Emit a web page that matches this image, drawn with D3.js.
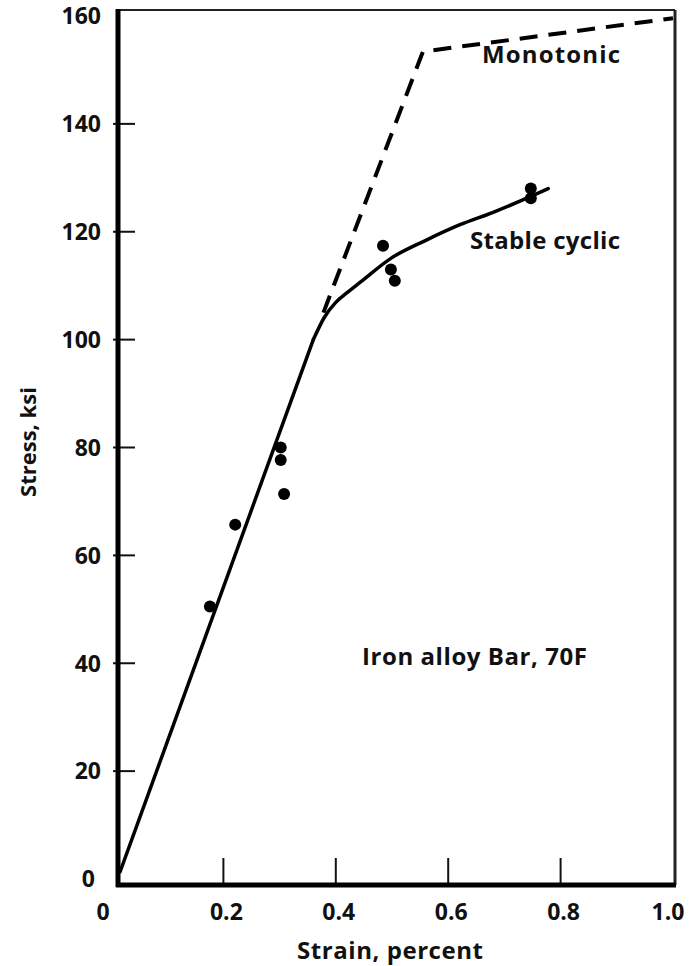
<!DOCTYPE html>
<html><head><meta charset="utf-8">
<script src="https://cdn.jsdelivr.net/npm/d3@7"></script>
<style>
html,body{margin:0;padding:0;background:#fff;}
svg{display:block;}
text{font-family:"Open Sans",sans-serif;font-weight:700;fill:#111;}
</style></head>
<body>
<script>
// ---- data ----
const xTicks = [0, 0.2, 0.4, 0.6, 0.8, 1.0];
const xTickLabels = ["0", "0.2", "0.4", "0.6", "0.8", "1.0"];
const yTicks = [0, 20, 40, 60, 80, 100, 120, 140, 160];
const yTickLabels = ["0", "20", "40", "60", "80", "100", "120", "140", "160"];
// straight (elastic) part of the stable cyclic curve
const elasticStrain = [0.016, 0.36];
const elasticStress = [1.3, 100.0];
// curved part of the stable cyclic curve
const cyclicStrain = [0.36, 0.38, 0.40, 0.42, 0.443, 0.5, 0.562, 0.621, 0.68, 0.746, 0.778];
const cyclicStress = [100.0, 104.2, 106.9, 108.7, 110.6, 115.2, 118.5, 121.3, 123.6, 126.5, 128.0];
const monoStrain = [0.378, 0.555, 1.0];
const monoStress = [105.0, 153.4, 159.6];
const pointStrain = [0.176, 0.221, 0.302, 0.302, 0.308, 0.484, 0.498, 0.505, 0.747, 0.747];
const pointStress = [50.5, 65.7, 80.0, 77.7, 71.4, 117.4, 113.0, 110.9, 128.0, 126.2];
const xTitle = "Strain, percent";
const yTitle = "Stress, ksi";
const labels = ["Monotonic", "Stable cyclic", "Iron alloy Bar, 70F"];

// ---- layout ----
const W = 690, H = 966;
const frame = {left: 118, right: 675, top: 10, bottom: 885};
const x = d3.scaleLinear().domain([0, 1]).range([111, 673]);
const y = d3.scaleLinear().domain([0, 160]).range([879, 16]);

const svg = d3.select("body").append("svg").attr("width", W).attr("height", H);

// frame (top & right thin)
svg.append("line").attr("x1", frame.left).attr("x2", frame.right).attr("y1", frame.top).attr("y2", frame.top)
  .attr("stroke", "#222").attr("stroke-width", 2);
svg.append("line").attr("x1", frame.right).attr("x2", frame.right).attr("y1", frame.top).attr("y2", frame.bottom)
  .attr("stroke", "#222").attr("stroke-width", 3);

// y ticks
const gy = svg.append("g");
gy.selectAll("line").data(yTicks.slice(1, -1)).join("line")
  .attr("x1", 113).attr("x2", 135).attr("y1", d => y(d)).attr("y2", d => y(d))
  .attr("stroke", "#111").attr("stroke-width", 2);
gy.selectAll("text").data(yTicks).join("text")
  .attr("x", (d, i) => i === 0 ? 95 : 101).attr("y", d => y(d)).attr("dy", "0.36em")
  .attr("text-anchor", "end").attr("font-size", 23).text((d, i) => yTickLabels[i]);

// x ticks
const gx = svg.append("g");
gx.selectAll("line").data(xTicks.slice(1, -1)).join("line")
  .attr("x1", d => x(d)).attr("x2", d => x(d)).attr("y1", 858).attr("y2", frame.bottom)
  .attr("stroke", "#111").attr("stroke-width", 2);
gx.selectAll("text").data(xTicks).join("text")
  .attr("x", (d, i) => i === 0 ? x(d) - 8 : (i === xTicks.length - 1 ? x(d) - 5 : x(d) + 3)).attr("y", 920)
  .attr("text-anchor", "middle").attr("font-size", 23).text((d, i) => xTickLabels[i]);

// thick axes
svg.append("line").attr("x1", frame.left).attr("x2", frame.left).attr("y1", frame.top - 1).attr("y2", frame.bottom + 2)
  .attr("stroke", "#000").attr("stroke-width", 5);
svg.append("line").attr("x1", frame.left - 2).attr("x2", frame.right + 1).attr("y1", frame.bottom).attr("y2", frame.bottom)
  .attr("stroke", "#000").attr("stroke-width", 5);

// titles
svg.append("text").attr("x", 297).attr("y", 959).attr("font-size", 24)
  .attr("textLength", 186).attr("lengthAdjust", "spacing").text(xTitle);
svg.append("text").attr("transform", "translate(36,442) rotate(-90)").attr("text-anchor", "middle")
  .attr("font-size", 22).text(yTitle);

// curves
const elastic = elasticStrain.map((v, i) => [v, elasticStress[i]]);
svg.append("path").datum(elastic)
  .attr("d", d3.line().x(d => x(d[0])).y(d => y(d[1])).curve(d3.curveLinear))
  .attr("fill", "none").attr("stroke", "#000").attr("stroke-width", 3.5).attr("stroke-linecap", "round");
const cyc = cyclicStrain.map((v, i) => [v, cyclicStress[i]]);
svg.append("path").datum(cyc)
  .attr("d", d3.line().x(d => x(d[0])).y(d => y(d[1])).curve(d3.curveMonotoneX))
  .attr("fill", "none").attr("stroke", "#000").attr("stroke-width", 3.5).attr("stroke-linecap", "round");
const mono = monoStrain.map((v, i) => [v, monoStress[i]]);
svg.append("path").datum(mono)
  .attr("d", d3.line().x(d => x(d[0])).y(d => y(d[1])).curve(d3.curveLinear))
  .attr("fill", "none").attr("stroke", "#000").attr("stroke-width", 4).attr("stroke-dasharray", "18,11");

// points
svg.append("g").selectAll("circle").data(pointStrain).join("circle")
  .attr("cx", d => x(d)).attr("cy", (d, i) => y(pointStress[i])).attr("r", 6).attr("fill", "#000");

// annotations
svg.append("text").attr("x", 482).attr("y", 63).attr("font-size", 24)
  .attr("textLength", 138).attr("lengthAdjust", "spacing").text(labels[0]);
svg.append("text").attr("x", 470).attr("y", 249).attr("font-size", 24)
  .attr("textLength", 150).attr("lengthAdjust", "spacing").text(labels[1]);
svg.append("text").attr("x", 362).attr("y", 665).attr("font-size", 24)
  .attr("textLength", 225).attr("lengthAdjust", "spacing").text(labels[2]);
</script>
</body></html>
